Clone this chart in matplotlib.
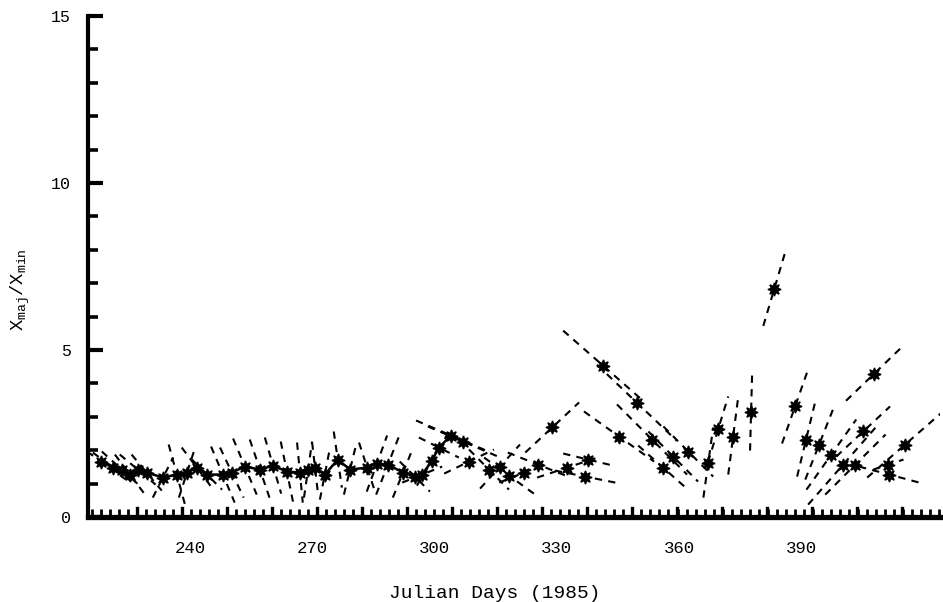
import numpy as np
import matplotlib
matplotlib.use("Agg")
import matplotlib.pyplot as plt

plt.rcParams['font.family'] = ['Liberation Mono', 'DejaVu Sans Mono']
plt.rcParams['mathtext.fontset'] = 'custom'
plt.rcParams['mathtext.tt'] = 'Liberation Mono'
plt.rcParams['mathtext.rm'] = 'Liberation Mono'
plt.rcParams['mathtext.it'] = 'Liberation Mono'

# ---- data ----
days = [218.2, 221.1, 223.3, 225.3, 227.2, 229.4, 233.4, 236.8, 239.3, 241.7,
        244.2, 248.1, 250.3, 253.5, 257.2, 260.4, 263.8, 267.0, 269.0, 270.7,
        273.1, 276.3, 279.3, 283.5, 285.9, 288.6, 292.3, 295.2, 297.0, 299.4,
        301.1, 304.1, 307.0, 308.5, 313.4, 316.1, 318.3, 322.0, 325.4, 328.9,
        332.6, 337.0, 337.7, 341.4, 345.3, 349.7, 353.4, 356.1, 358.6, 362.3,
        367.2, 369.6, 373.3, 377.7, 383.4, 388.5, 391.2, 394.4, 397.4, 400.3,
        403.3, 405.2, 407.9, 411.4, 411.6, 415.5]
ratio = [1.66, 1.48, 1.42, 1.27, 1.42, 1.33, 1.18, 1.27, 1.33, 1.48,
         1.27, 1.27, 1.33, 1.51, 1.42, 1.54, 1.36, 1.33, 1.42, 1.48,
         1.27, 1.72, 1.42, 1.48, 1.60, 1.57, 1.33, 1.21, 1.27, 1.69,
         2.08, 2.44, 2.26, 1.66, 1.42, 1.51, 1.24, 1.33, 1.57, 2.68,
         1.48, 1.21, 1.72, 4.53, 2.41, 3.42, 2.32, 1.48, 1.81, 1.96,
         1.63, 2.62, 2.41, 3.13, 6.83, 3.31, 2.32, 2.17, 1.87, 1.57,
         1.57, 2.56, 4.29, 1.57, 1.27, 2.17]
# half-extent of the dashed segment through each point (days, ratio)
seg_dx = [6.1, 4.9, 4.9, 3.7, 4.4, 3.7, 2.5, 2.0, 2.0, 3.7,
          3.7, 2.9, 2.9, 2.9, 2.5, 2.0, 1.5, 0.7, 1.0, 0.7,
          1.2, 1.0, 1.5, 2.0, 2.5, 2.9, 2.5, 3.7, 4.9, 3.7,
          4.9, 8.6, 8.6, 6.1, 4.9, 4.9, 6.1, 6.1, 7.4, 6.6,
          7.4, 7.4, 6.1, 9.8, 8.6, 9.8, 8.6, 6.1, 6.1, 6.1,
          1.2, 2.5, 1.2, 0.25, 2.7, 3.2, 2.2, 3.4, 6.1, 8.6,
          7.4, 6.6, 6.9, 3.7, 7.4, 9.3]
seg_dy = [-0.54, -0.45, -0.54, -0.60, -0.45, -0.54, 0.60, -0.90, 0.75, -0.60,
          -0.45, -0.84, -0.75, -0.84, -0.90, -0.84, -0.90, -0.90, 0.84, -0.75,
          0.75, -0.84, 0.75, -0.75, 0.84, 0.90, 0.75, -0.45, 0.24, 0.75,
          -0.30, -0.45, -0.45, 0.36, -0.60, 0.66, -0.54, 0.30, -0.36, 0.75,
          0.30, -0.18, -0.18, -1.05, -0.75, -1.14, -1.05, -0.66, -0.75, -0.75,
          1.05, 0.99, 1.14, 1.14, 1.11, 1.11, 1.11, 1.05, 1.05, 1.20,
          0.90, 0.75, 0.81, 0.15, -0.24, 0.99]
n_chain = 33  # early points drawn joined

xticklabels = ['240', '270', '300', '330', '360', '390']
xtickvals = [240, 270, 300, 330, 360, 390]
yticks = [0, 5, 10, 15]

# ---- figure ----
fig = plt.figure(figsize=(9.43, 6.02), dpi=100)
ax = fig.add_axes([0.0933, 0.1412, 0.9037, 0.8322])
ax.set_xlim(215.0, 424.1)
ax.set_ylim(0, 15)

d = np.array(days)
r = np.array(ratio)
sx = np.array(seg_dx)
sy = np.array(seg_dy)

for xi, yi, dxi, dyi in zip(d, r, sx, sy):
    ax.plot([xi - dxi, xi + dxi], [yi - dyi, yi + dyi], color='black',
            lw=1.5, linestyle=(0, (3.5, 3.0)), clip_on=True, zorder=2)

ax.plot(d[:n_chain], r[:n_chain], color='black', lw=1.8, zorder=3)
ax.plot(d, r, linestyle='none', marker=(8, 1, 0), markersize=9.5,
        color='black', markeredgewidth=1.0, zorder=4)

# spines
for s in ['top', 'right']:
    ax.spines[s].set_visible(False)
ax.spines['left'].set_linewidth(3.0)
ax.spines['bottom'].set_linewidth(3.8)

# y ticks
ax.set_yticks(yticks)
ax.set_yticklabels([str(v) for v in yticks])
ax.set_yticks(np.arange(0, 16, 1), minor=True)
ax.tick_params(axis='y', which='major', direction='in', length=11, width=3.0,
               pad=12, labelsize=12)
ax.tick_params(axis='y', which='minor', direction='in', length=7, width=2.6)

# x ticks: labels at data positions, inward tick comb
ax.set_xticks(xtickvals)
ax.set_xticklabels(xticklabels)
ax.tick_params(axis='x', which='major', direction='in', length=0, pad=17,
               labelsize=12.5)
minor = np.arange(216.0, 424.0, 2.21)
ax.set_xticks(minor, minor=True)
ax.tick_params(axis='x', which='minor', direction='in', length=5.5, width=2.0)
for t in np.arange(227.0, 424.0, 11.05):
    ax.plot([t, t], [0, 0.28], color='black', lw=2.4, clip_on=False, zorder=5)

fig.text(495 / 943, 1 - 593 / 602, 'Julian Days (1985)', ha='center',
         va='center', fontsize=14)
fig.text(20 / 943, 1 - 290 / 602, r'$\mathtt{X_{maj}/X_{min}}$', rotation=90,
         ha='center', va='center', fontsize=13.5)

fig.savefig('out.png', dpi=100, facecolor='white')
